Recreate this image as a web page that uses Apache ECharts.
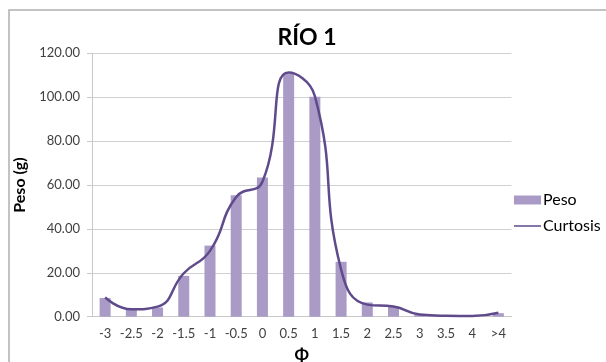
<!DOCTYPE html>
<html>
<head>
<meta charset="utf-8">
<script src="https://cdn.jsdelivr.net/npm/echarts@6/dist/echarts.min.js"></script>
<style>
html,body{margin:0;padding:0;background:#fff;}
#c{width:606px;height:362px;}
</style>
</head>
<body>
<div id="c"></div>
<script>
var categories = ['-3','-2.5','-2','-1.5','-1','-0.5','0','0.5','1','1.5','2','2.5','3','3.5','4','>4'];
var peso = [8.5, 3.8, 4.2, 18.6, 32.4, 55.3, 63.4, 110.8, 100.2, 25.0, 6.5, 4.6, 1.1, 0.4, 0.3, 1.6];
var curtosis = [8.8, 3.4, 4.6, 19.8, 30.0, 54.5, 61.5, 111.2, 100.5, 21.5, 5.5, 4.6, 1.0, 0.4, 0.3, 1.8];
var yTicks = [0, 20, 40, 60, 80, 100, 120];

var font = 'Lato, "Open Sans", sans-serif';
var chart = echarts.init(document.getElementById('c'), null, {renderer: 'canvas'});
chart.setOption({
  animation: false,
  backgroundColor: '#ffffff',
  graphic: [{
    type: 'rect',
    shape: {x: 9, y: 10, width: 700, height: 500},
    style: {fill: 'none', stroke: '#b0b0b0', lineWidth: 1.5},
    silent: true
  }],
  title: {
    text: 'RÍO 1',
    left: 302,
    textAlign: 'center',
    top: 21,
    textStyle: {fontFamily: font, fontSize: 23, fontWeight: 'bold', color: '#000'}
  },
  grid: {left: 92, right: 94.5, top: 53.3, bottom: 45.3, containLabel: false, outerBoundsMode: 'none'},
  legend: {
    orient: 'vertical',
    left: 509,
    top: 186,
    itemWidth: 27,
    itemHeight: 9,
    itemGap: 8,
    textStyle: {fontFamily: font, fontSize: 16, color: '#000', lineHeight: 18, padding: [0, 0, 0, -3]},
    data: [
      {name: 'Peso', icon: 'rect'},
      {name: 'Curtosis', icon: 'path://M0,4 L27,4 L27,5.5 L0,5.5 Z'}
    ]
  },
  xAxis: {
    type: 'category',
    data: categories,
    boundaryGap: true,
    name: 'Φ',
    nameLocation: 'middle',
    nameGap: 30,
    nameTextStyle: {fontFamily: font, fontSize: 17, fontWeight: 'bold', color: '#000'},
    axisLine: {show: true, lineStyle: {color: '#c8c8c8', width: 1}},
    axisTick: {show: false},
    axisLabel: {fontFamily: font, fontSize: 13, color: '#404040', margin: 11, interval: 0}
  },
  yAxis: {
    type: 'value',
    min: 0,
    max: 120,
    interval: 20,
    name: 'Peso (g)',
    nameLocation: 'middle',
    nameGap: 58,
    nameRotate: 90,
    nameTextStyle: {fontFamily: font, fontSize: 16, fontWeight: 'bold', color: '#000'},
    axisLine: {show: true, lineStyle: {color: '#c8c8c8', width: 1}},
    axisTick: {show: true, inside: false, length: 5, lineStyle: {color: '#c8c8c8'}},
    splitLine: {show: true, lineStyle: {color: '#d0d0d0', width: 1}},
    axisLabel: {
      fontFamily: font, fontSize: 13, color: '#404040', margin: 12,
      formatter: function (v) { return yTicks.indexOf(v) >= 0 ? v.toFixed(2) : ''; }
    }
  },
  series: [
    {
      name: 'Peso',
      type: 'bar',
      data: peso,
      barWidth: 11,
      itemStyle: {color: '#a99bc6'}
    },
    {
      name: 'Curtosis',
      type: 'line',
      data: curtosis,
      smooth: 0.5,
      symbol: 'none',
      lineStyle: {color: '#5f4a8b', width: 2.5},
      itemStyle: {color: '#5f4a8b'}
    }
  ]
});
</script>
</body>
</html>
